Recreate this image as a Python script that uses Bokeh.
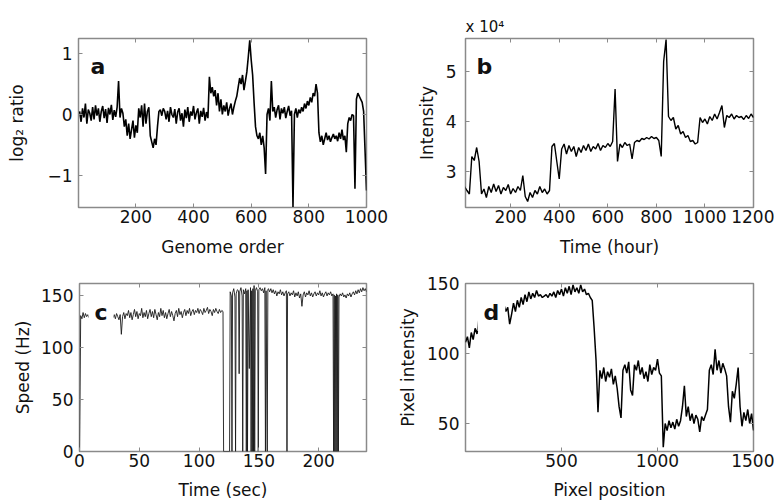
from bokeh.plotting import figure
from bokeh.models import Range1d, FixedTicker, LinearAxis, Label
from bokeh.layouts import column, row
from bokeh.embed import file_html
from bokeh.resources import INLINE

FONT = "DejaVu Sans"
FRAME = "#8a8a8a"
TXT = "#111111"
FS = "17px"

# ---------------- data ----------------
# panel a: log2 ratio vs genome order
a_order = list(range(5, 1001, 5))
a_log2 = [
    0.05, -0.12, 0.10, -0.05, 0.18, -0.15, 0.08, 0.02, -0.10, 0.12,
    -0.08, 0.15, -0.02, 0.10, -0.12, 0.05, 0.14, -0.06, 0.09, -0.14,
    0.11, 0.00, 0.16, -0.09, 0.07, -0.04, 0.12, 0.55, -0.05, 0.10,
    0.02, -0.20, -0.08, -0.35, -0.15, -0.40, -0.25, -0.10, -0.38, -0.18,
    -0.30, 0.10, -0.05, 0.15, -0.20, 0.18, -0.15, 0.05, 0.12, -0.35,
    -0.45, -0.55, -0.40, -0.50, -0.20, 0.05,
    0.08, -0.02, 0.10, 0.05, -0.08, 0.06, -0.12, 0.12, 0.00, -0.05,
    0.09, -0.15, 0.04, 0.10, -0.10, 0.02, -0.20, 0.08, -0.06, 0.12,
    -0.12, 0.05, -0.02, 0.14, -0.08, 0.03, 0.10, -0.15, 0.06, -0.04,
    0.11, -0.10, 0.04, -0.06,
    0.62, 0.35, 0.45, 0.30, 0.40, 0.15, 0.35, 0.05, 0.25, 0.00,
    0.15, 0.05, 0.20, -0.02, 0.10, 0.18, 0.00, 0.12, 0.22, 0.30,
    0.45, 0.60, 0.50, 0.65, 0.40, 0.55, 0.70, 0.95,
    1.22, 0.90, 0.65, 0.20, -0.20, -0.35,
    -0.40, -0.30, -0.50, -0.35, -0.55, -0.98,
    0.00, 0.10, -0.10, 0.55, 0.05, 0.12, -0.05, 0.08, 0.15, -0.08,
    0.10, 0.02, 0.12, -0.06, 0.05, 0.14, -0.02, 0.06,
    -1.52,
    0.00, 0.10, -0.05, 0.08, 0.02, 0.12, 0.05, 0.18, 0.10, 0.22,
    0.15, 0.28, 0.20, 0.35, 0.30, 0.50, 0.35,
    -0.30, -0.45, -0.35, -0.50, -0.40, -0.30, -0.42, -0.35, -0.45, -0.38,
    -0.32, -0.40, -0.35, -0.44, -0.30, -0.40, -0.25, -0.42, -0.35, -0.62,
    -0.15, -0.05, -0.10, 0.00, -0.02, -1.22,
    0.25, 0.35, 0.30, 0.25, 0.20,
    0.05, -0.60, -1.25,
]
a_xticks = [200, 400, 600, 800, 1000]
a_yticks = [-1, 0, 1]

# panel b: intensity (x 10^4) vs time (hour)
b_hour = list(range(10, 1201, 10))
b_int = [
    2.70, 2.62, 2.55, 3.30, 3.22, 3.48, 3.20, 2.55, 2.65, 2.48,
    2.70, 2.58, 2.75, 2.60, 2.72, 2.55, 2.68, 2.62, 2.74, 2.55,
    2.66, 2.58, 2.70, 2.62, 2.92, 2.50, 2.40, 2.58, 2.48, 2.62,
    2.55, 2.70, 2.58, 2.65, 2.55, 2.62, 3.50, 3.56, 3.20, 2.85,
    3.45, 3.55, 3.35, 3.52, 3.40, 3.50, 3.30, 3.48, 3.38, 3.52,
    3.42, 3.55, 3.40, 3.50, 3.45, 3.56, 3.42, 3.52, 3.48, 3.56,
    3.50, 3.60, 4.65, 3.20, 3.55, 3.48, 3.58, 3.52, 3.55, 3.25,
    3.58, 3.62, 3.60, 3.66, 3.64, 3.68, 3.65, 3.70, 3.66, 3.68,
    3.62, 3.30, 5.20, 5.64, 4.10, 4.02, 4.08, 3.85, 3.92, 3.75,
    3.80, 3.68, 3.72, 3.60, 3.62, 3.55, 3.58, 4.08, 3.98, 4.05,
    3.95, 4.10, 4.02, 4.15, 4.05, 4.18, 4.32, 3.88, 4.12, 4.08,
    4.15, 4.05, 4.12, 4.08, 4.10, 4.04, 4.12, 4.06, 4.15, 4.08,
]
b_xticks = [200, 400, 600, 800, 1000, 1200]
b_yticks = [3, 4, 5]

# panel c: speed (Hz) vs time (sec)
c_time = [
    0, 1, 2, 3, 4, 5, 6, 7, 8, 9, 10, 11, 12, 13, 14, 15, 16, 17, 18, 19,
    20, 21, 22, 23, 24, 25, 26, 27, 28, 29, 30, 31, 32, 33, 34, 35, 36, 37, 38, 39,
    40, 41, 42, 43, 44, 45, 46, 47, 48, 49, 50, 51, 52, 53, 54, 55, 56, 57, 58, 59,
    60, 61, 62, 63, 64, 65, 66, 67, 68, 69, 70, 71, 72, 73, 74, 75, 76, 77, 78, 79,
    80, 81, 82, 83, 84, 85, 86, 87, 88, 89, 90, 91, 92, 93, 94, 95, 96, 97, 98, 99,
    100, 101, 102, 103, 104, 105, 106, 107, 108, 109, 110, 111, 112, 113, 114, 115,
    116, 117, 118, 119, 120,
    120.5, 125.5, 126, 127, 127.5, 128, 129, 130, 130.5, 131, 132, 133, 133.5, 134,
    135, 136, 136.5, 137, 138, 139, 139.5, 140, 140.5, 141, 142, 143, 143.5, 144,
    144.5, 145, 145.5, 146, 146.5, 147, 148, 149, 149.5, 150, 151, 152, 153, 154,
    155, 155.5, 156, 157, 157.5, 158, 159,
    160, 161, 162, 163, 164, 165, 166, 167, 168, 169, 170, 171, 172, 173, 173.5,
    174, 175, 176, 177, 178, 179, 180, 181, 182, 183, 184, 185, 186, 187, 188, 189,
    190, 191, 192, 193, 194, 195, 196, 197, 198, 199, 200, 201, 202, 203, 204, 205,
    206, 207, 208, 209, 210, 211, 212, 212.5, 213, 213.5, 214, 214.5, 215, 215.5,
    216, 216.5, 217, 218, 219, 220, 221, 222, 223, 224, 225, 226, 227, 228, 229,
    230, 231, 232, 233, 234, 235, 236, 237, 238, 239, 240,
]
c_speed = [
    0, 131, 128, 134, 129, 133, 130, 132, 129, 133, 130, 132, 128, 131, 134, 129, 132, 130, 133, 129,
    131, 134, 128, 132, 130, 133, 129, 131, 129, 132, 128, 133, 130, 127, 132, 113, 130, 134, 128, 133,
    131, 136, 129, 134, 127, 132, 137, 130, 135, 128, 133, 131, 138, 129, 134, 130, 136, 128, 133, 137,
    130, 135, 129, 137, 132, 127, 134, 130, 138, 131, 136, 129, 134, 128, 133, 137, 130, 135, 131, 126,
    133, 136, 130, 138, 132, 135, 129, 134, 137, 131, 136, 133, 138, 131, 135, 137, 132, 136, 134, 138,
    133, 137, 135, 132, 138, 134, 136, 139, 133, 137, 135, 131, 137, 134, 138, 135,
    133, 137, 134, 136, 135,
    0, 0, 154, 150, 0, 153, 157, 149, 0, 152, 156, 155, 75, 154,
    158, 150, 0, 156, 152, 157, 0, 155, 0, 156, 80, 158, 0, 155,
    0, 157, 0, 160, 0, 155, 158, 154, 0, 156, 158, 155, 157, 153,
    158, 0, 155, 0, 156, 157, 154,
    157, 153, 156, 152, 155, 150, 154, 152, 156, 151, 154, 150, 153, 155, 0,
    152, 154, 150, 153, 151, 155, 149, 153, 150, 154, 148, 152, 140, 151, 154, 149,
    153, 151, 155, 150, 153, 149, 152, 154, 150, 153, 151, 155, 150, 153, 149, 152,
    154, 150, 153, 151, 154, 150, 152, 0, 151, 0, 150, 0, 152, 0,
    151, 0, 149, 152, 150, 153, 149, 151, 148, 152, 150, 153, 149, 152, 154,
    151, 155, 152, 156, 153, 157, 154, 158, 155, 157, 154,
]
c_xticks = [0, 50, 100, 150, 200]
c_yticks = [0, 50, 100, 150]

# panel d: pixel intensity vs pixel position
d_pos = list(range(0, 1501, 10))
d_pix = [
    108, 112, 104, 115, 110, 118, 114, 125, 120, 117,
    126, 130, 128, 133, 131, 136, 134, 138, 136, 139,
    135, 130, 133, 121, 128, 136, 130, 138, 133, 140,
    135, 142, 137, 144, 139, 143, 140, 145, 141, 142,
    140, 141, 142, 140, 143, 141, 144, 140, 145, 142,
    146, 141, 147, 143, 148, 142, 149, 144, 147, 143,
    149, 144, 146, 142, 143, 140, 138, 118, 95, 58,
    88, 82, 90, 80, 87, 83, 89, 78, 84, 75,
    62, 54, 88, 92, 86, 94, 74, 70, 92, 88,
    95, 85, 90, 82, 87, 80, 92, 85, 90, 88,
    96, 86, 84, 33, 50, 45, 52, 47, 51, 46,
    53, 48, 52, 62, 77, 55, 62, 52, 57, 50,
    56, 53, 44, 55, 52, 56, 60, 88, 92, 85,
    103, 88, 95, 86, 93, 89, 84, 62, 51, 73,
    68, 78, 90, 62, 48, 58, 52, 60, 50, 57,
    45,
]
d_xticks = [500, 1000, 1500]
d_yticks = [50, 100, 150]


def style_axis(ax, ticks, show, standoff):
    ax.ticker = FixedTicker(ticks=ticks)
    ax.minor_tick_line_color = None
    ax.major_tick_in = 4
    ax.major_tick_out = 0
    ax.major_tick_line_color = FRAME
    ax.major_tick_line_width = 1
    ax.axis_line_color = None
    ax.major_label_text_font = FONT
    ax.major_label_standoff = standoff
    if show:
        ax.major_label_text_font_size = FS
        ax.major_label_text_color = TXT
    else:
        ax.major_label_text_font_size = "1px"
        ax.major_label_text_color = None
        ax.major_label_text_alpha = 0
    ax.axis_label_text_font = FONT
    ax.axis_label_text_font_size = FS
    ax.axis_label_text_font_style = "normal"
    ax.axis_label_text_color = TXT


def panel(width, height, left, right, top, bottom, xr, yr, xticks, yticks,
          xlabel, ylabel, y_tick_sd, y_label_sd, x_tick_sd, x_label_sd):
    p = figure(width=width, height=height, output_backend="svg",
               toolbar_location=None, x_range=Range1d(*xr), y_range=Range1d(*yr),
               min_border_left=left, min_border_right=right,
               min_border_top=top, min_border_bottom=bottom)
    p.xgrid.visible = False
    p.ygrid.visible = False
    p.outline_line_color = FRAME
    p.outline_line_width = 1.5
    p.background_fill_color = "white"
    p.border_fill_color = "white"
    xa = p.xaxis[0]
    ya = p.yaxis[0]
    style_axis(xa, xticks, True, x_tick_sd)
    xa.axis_label = xlabel
    xa.axis_label_standoff = x_label_sd
    style_axis(ya, yticks, True, y_tick_sd)
    ya.axis_label = ylabel
    ya.axis_label_standoff = y_label_sd
    ta = LinearAxis()
    style_axis(ta, xticks, False, 0)
    ra = LinearAxis()
    style_axis(ra, yticks, False, 0)
    p.add_layout(ta, "above")
    p.add_layout(ra, "right")
    return p


def letter(p, txt, x, y, bg=False):
    kw = {}
    if bg:
        kw = dict(background_fill_color="white", padding=6)
    p.add_layout(Label(x=x, y=y, x_units="screen", y_units="screen", text=txt,
                       text_font=FONT, text_font_style="bold", text_font_size="22px",
                       text_color=TXT, text_baseline="alphabetic", **kw))


pa = panel(410, 261, 78, 44, 38, 54, (1, 1000), (-1.53, 1.25), a_xticks, a_yticks,
           "Genome order", "log\u2082 ratio", 6, 17, 2, 11)
pa.line(a_order, a_log2, color="black", line_width=1.6)
letter(pa, "a", 12, 141)

pb = panel(364, 261, 55, 21, 38, 54, (14, 1200), (2.28, 5.66), b_xticks, b_yticks,
           "Time (hour)", "Intensity", 9, 6, 2, 11)
pb.line(b_hour, b_int, color="black", line_width=1.4)
letter(pb, "b", 11, 141)
pb.title.text = "x 10\u2074"
pb.title.align = "left"
pb.title.offset = 0
pb.title.standoff = 5
pb.title.text_font = FONT
pb.title.text_font_size = "15px"
pb.title.text_font_style = "normal"
pb.title.text_color = TXT

pc = panel(392, 242, 79, 26, 22, 52, (0, 240), (0, 162), c_xticks, c_yticks,
           "Time (sec)", "Speed (Hz)", 6, 5, 2, 10)
pc.line(c_time, c_speed, color="#1a1a1a", line_width=0.9)
letter(pc, "c", 9, 139, bg=True)

pd_ = panel(382, 242, 73, 21, 22, 52, (0, 1500), (30, 150), d_xticks, d_yticks,
            "Pixel position", "Pixel intensity", 6, 6, 2, 10)
pd_.line(d_pos, d_pix, color="black", line_width=1.5)
letter(pd_, "d", 12, 139, bg=True)

layout = column(row(pa, pb), row(pc, pd_))
open("out.html", "w").write(file_html(layout, INLINE, "plot"))
